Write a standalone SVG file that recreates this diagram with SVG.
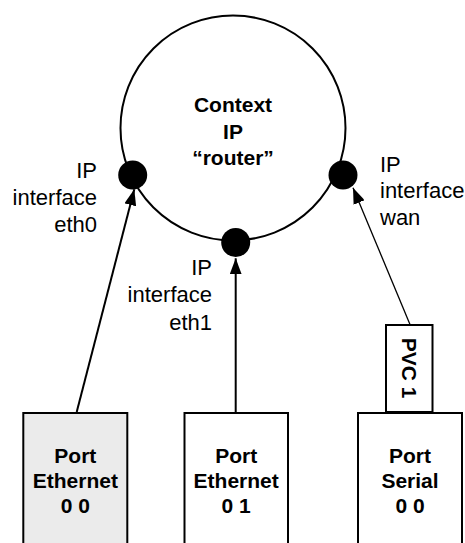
<svg xmlns="http://www.w3.org/2000/svg" width="465" height="543" viewBox="0 0 465 543">
  <defs>
    <marker id="arrow" viewBox="0 0 16 12" refX="16" refY="6" markerWidth="16" markerHeight="12" markerUnits="userSpaceOnUse" orient="auto">
      <path d="M0,0 L16,6 L0,12 Z" fill="#000"/>
    </marker>
    <style>
      .lbl { font-family: "Liberation Sans", Arial, sans-serif; font-size: 22px; fill: #000; }
      .bold { font-family: "Liberation Sans", Arial, sans-serif; font-size: 21px; font-weight: bold; fill: #000; text-anchor: middle; }
      .box { fill: #fff; stroke: #000; stroke-width: 2; }
      .dot { fill: #000; }
      .link { stroke: #000; fill: none; marker-end: url(#arrow); }
    </style>
  </defs>
  <rect width="465" height="543" fill="#fff"/>

  <!-- router context -->
  <g id="context">
    <circle cx="233" cy="128" r="112.5" fill="none" stroke="#000" stroke-width="2"/>
    <text class="bold" x="233" y="111.5">Context</text>
    <text class="bold" x="233" y="138.5">IP</text>
    <text class="bold" x="233" y="165">“router”</text>
  </g>

  <!-- interfaces -->
  <g id="if-eth0">
    <circle class="dot" cx="132.7" cy="175" r="14.5"/>
    <text class="lbl" x="97" y="178.3" text-anchor="end">IP</text>
    <text class="lbl" x="97" y="205" text-anchor="end">interface</text>
    <text class="lbl" x="97" y="231.7" text-anchor="end">eth0</text>
  </g>
  <g id="if-eth1">
    <circle class="dot" cx="235.7" cy="242.5" r="14.5"/>
    <text class="lbl" x="212" y="275" text-anchor="end">IP</text>
    <text class="lbl" x="212" y="301.7" text-anchor="end">interface</text>
    <text class="lbl" x="212" y="330" text-anchor="end">eth1</text>
  </g>
  <g id="if-wan">
    <circle class="dot" cx="343" cy="175" r="14.5"/>
    <text class="lbl" x="380" y="171.7">IP</text>
    <text class="lbl" x="380" y="198.3">interface</text>
    <text class="lbl" x="380" y="225">wan</text>
  </g>

  <!-- connectors -->
  <g id="connectors">
    <line class="link" x1="76.7" y1="412" x2="134.3" y2="189.3" stroke-width="2"/>
    <line class="link" x1="235.7" y1="412" x2="235.7" y2="258.3" stroke-width="2"/>
    <line class="link" x1="410" y1="324.5" x2="353" y2="187.7" stroke-width="1.3"/>
  </g>

  <!-- ports -->
  <g id="port-eth00">
    <rect class="box" x="23.3" y="413" width="104" height="140" style="fill:#ebebeb"/>
    <text class="bold" x="75.3" y="463.3">Port</text>
    <text class="bold" x="75.3" y="488.3">Ethernet</text>
    <text class="bold" x="75.3" y="513.3">0 0</text>
  </g>
  <g id="port-eth01">
    <rect class="box" x="184.5" y="413" width="103.5" height="140"/>
    <text class="bold" x="236.2" y="463.3">Port</text>
    <text class="bold" x="236.2" y="488.3">Ethernet</text>
    <text class="bold" x="236.2" y="513.3">0 1</text>
  </g>
  <g id="port-serial00">
    <rect class="box" x="358" y="413" width="104" height="140"/>
    <text class="bold" x="410" y="463.3">Port</text>
    <text class="bold" x="410" y="488.3">Serial</text>
    <text class="bold" x="410" y="513.3">0 0</text>
  </g>
  <g id="pvc1">
    <rect class="box" x="386" y="325" width="46.5" height="87"/>
    <text class="bold" transform="translate(409,368) rotate(90)" y="7.5">PVC 1</text>
  </g>
</svg>
